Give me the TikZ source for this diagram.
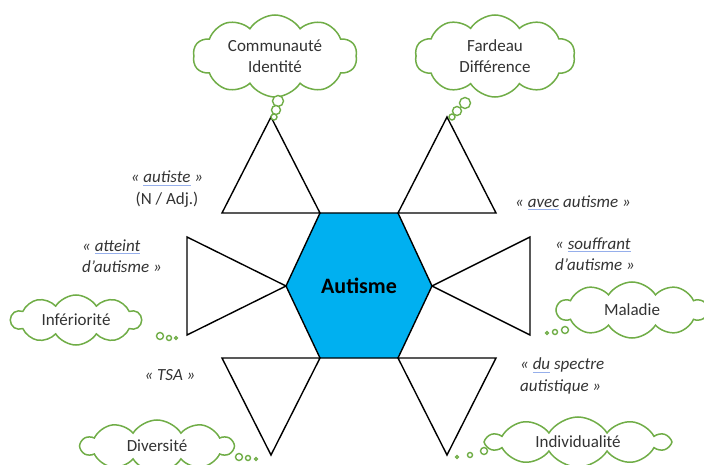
\documentclass[tikz,border=0pt]{standalone}
\usepackage{fontspec}
\setmainfont{Carlito}
\usetikzlibrary{shapes.symbols}

\definecolor{hexblue}{RGB}{0,176,240}
\definecolor{cloudgreen}{RGB}{112,173,71}
\definecolor{spellblue}{RGB}{150,175,235}
\newcommand{\spellmark}[1]{\setbox0\hbox{#1}\rlap{\color{spellblue}\rule[-3pt]{\wd0}{0.9pt}}\box0\relax}

\begin{document}
\begin{tikzpicture}[x=1pt, y=-1pt,
    tri/.style={draw=black, line width=1.4pt, line join=miter},
    thought/.style={cloud, cloud ignores aspect, cloud puffs=10, cloud puff arc=115,
      draw=cloudgreen, fill=white, line width=1.5pt, inner sep=0pt, align=center,
      text=black!80, font=\fontsize{17}{21}\selectfont},
    bubble/.style={draw=cloudgreen, fill=white, line width=1.4pt},
    termtext/.style={inner sep=0pt, text=black!80, font=\fontsize{17}{21.5}\selectfont\itshape}]
  \useasboundingbox (0,0) rectangle (704,465);

  %% Hexagon
  \coordinate (H1) at (320,213);
  \coordinate (H2) at (398,213);
  \coordinate (H3) at (432,286);
  \coordinate (H4) at (398,358);
  \coordinate (H5) at (320,358);
  \coordinate (H6) at (286,286);
  \filldraw[fill=hexblue, draw=black, line width=1.4pt, line join=miter]
    (H1) -- (H2) -- (H3) -- (H4) -- (H5) -- (H6) -- cycle;
  \node[font=\fontsize{22}{26}\selectfont\bfseries] (autisme) at (359,286) {Autisme};

  %% Triangles
  \coordinate (TLa) at (271,117);
  \coordinate (TRa) at (447,117);
  \coordinate (BLa) at (271,455);
  \coordinate (BRa) at (447,455);
  \draw[tri] (222,213) -- (H1) -- (TLa) -- cycle;
  \draw[tri] (H2) -- (496,213) -- (TRa) -- cycle;
  \draw[tri] (H6) -- (187,237) -- (187,335) -- cycle;
  \draw[tri] (H3) -- (530,237) -- (530,335) -- cycle;
  \draw[tri] (222,358) -- (H5) -- (BLa) -- cycle;
  \draw[tri] (H4) -- (496,358) -- (BRa) -- cycle;

  %% Clouds
  \node[thought, minimum width=164pt, minimum height=82pt] (identite) at (275,56) {Communauté\\Identité};
  \node[thought, minimum width=160pt, minimum height=82pt] (fardeau) at (495,56) {Fardeau\\Différence};
  \node[thought, minimum width=130pt, minimum height=50pt] (inferiorite) at (76,320) {Infériorité};
  \node[thought, minimum width=150pt, minimum height=56pt] (maladie) at (632,310) {Maladie};
  \node[thought, minimum width=152pt, minimum height=52pt] (diversite) at (157,446) {Diversité};
  \node[thought, minimum width=182pt, minimum height=50pt] (individualite) at (578,442) {Individualité};

  %% Thought bubbles
  \foreach \x/\y/\r in {278/101/5.5, 276/110/4.5, 274/117/3,
                        465/103/5.5, 457/111/4.5, 452/117/3,
                        160/336/3.5, 169/338/2.5, 176/338/1.5,
                        565/330/3.5, 555/332/2.5, 547/333/1.5,
                        239/457/3.5, 248/458/2.5, 256/459/1.5,
                        484/451/3.5, 470/455/2.5, 457/457/1.5}
  {%
    \draw[bubble] (\x,\y) circle[radius=\r];
  }

  %% Terms
  \node[termtext, align=center] (autiste) at (167,189) {«~\spellmark{autiste}~»\\\upshape(N / Adj.)};
  \node[termtext, align=left, anchor=west] (atteint) at (82,256) {«~\spellmark{atteint}\\d’autisme~»};
  \node[termtext] (avec) at (573,203) {«~\spellmark{avec} autisme~»};
  \node[termtext, align=left, anchor=west] (souffrant) at (555,254) {«~\spellmark{souffrant}\\d’autisme~»};
  \node[termtext] (tsa) at (170,375) {«~TSA~»};
  \node[termtext, align=left, anchor=west] (spectre) at (520,376) {«~\spellmark{du} spectre\\autistique~»};
\end{tikzpicture}
\end{document}
